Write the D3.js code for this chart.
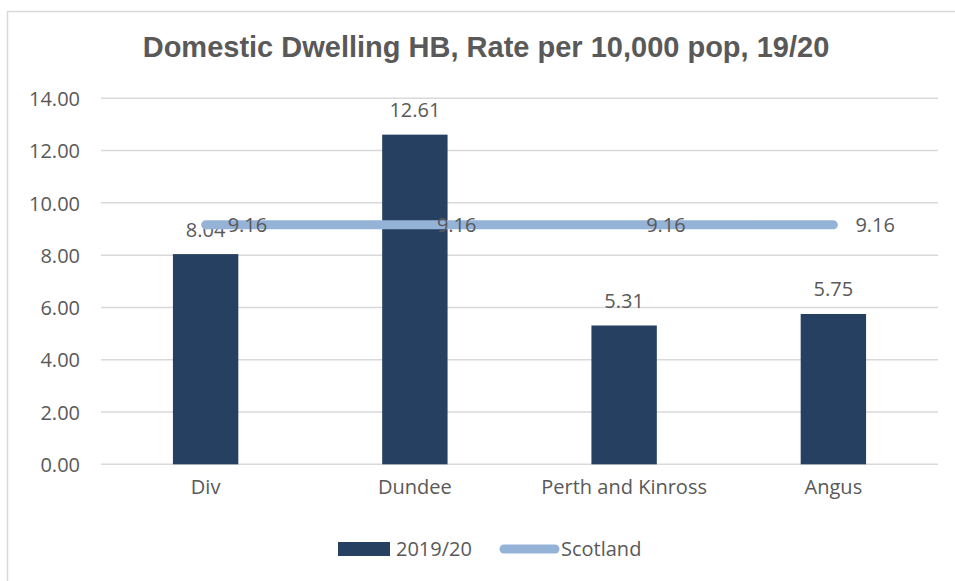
<!DOCTYPE html>
<html><head><meta charset="utf-8">
<script src="https://cdn.jsdelivr.net/npm/d3@7"></script>
<style>body{margin:0;background:#fff}svg{display:block}</style>
</head><body>
<script>
const categories = ["Div", "Dundee", "Perth and Kinross", "Angus"];
const rate2019 = [8.04, 12.61, 5.31, 5.75];
const scotland = [9.16, 9.16, 9.16, 9.16];
const yTicks = [0, 2, 4, 6, 8, 10, 12, 14];
const titleText = "Domestic Dwelling HB, Rate per 10,000 pop, 19/20";
const legendLabels = ["2019/20", "Scotland"];

const W = 955, H = 581;
const textColor = "#595959", barColor = "#264061", lineColor = "#95B3D7", gridColor = "#D9D9D9";
const font = "'Open Sans', sans-serif";

const svg = d3.select("body").append("svg").attr("width", W).attr("height", H);
svg.append("rect").attr("x", 0).attr("y", 0).attr("width", W).attr("height", H).attr("fill", "#fff");
// chart border (top and left visible)
svg.append("path").attr("d", `M7.5,${H} V11.5 H${W}`).attr("fill", "none").attr("stroke", gridColor).attr("stroke-width", 1.5);

const x = d3.scaleBand().domain(categories).range([101, 938]).paddingInner(0.6875).paddingOuter(0.34375);
const y = d3.scaleLinear().domain([0, 14]).range([464.3, 98.3]);

// title
svg.append("text").attr("x", 486).attr("y", 57).attr("text-anchor", "middle")
  .attr("font-family", "'Liberation Sans', Arial, sans-serif").attr("font-weight", "bold")
  .attr("font-size", 29).attr("fill", textColor).text(titleText);

// gridlines
svg.append("g").selectAll("line").data(yTicks).join("line")
  .attr("x1", 101).attr("x2", 938).attr("y1", d => y(d)).attr("y2", d => y(d))
  .attr("stroke", gridColor).attr("stroke-width", 1.5);

// y axis labels
const yAxis = d3.axisLeft(y).tickValues(yTicks).tickFormat(d3.format(".2f")).tickSize(0).tickPadding(0);
const gy = svg.append("g").attr("transform", "translate(80,0)").call(yAxis);
gy.select(".domain").remove();
gy.selectAll("text").attr("font-family", font).attr("font-size", 20).attr("fill", textColor).attr("dy", "0.36em");

// x axis labels
const xAxis = d3.axisBottom(x).tickSize(0).tickPadding(0);
const gx = svg.append("g").attr("transform", "translate(0,480)").call(xAxis);
gx.select(".domain").remove();
gx.selectAll("text").attr("font-family", font).attr("font-size", 20).attr("fill", textColor).attr("dy", "0.71em");

// bars
svg.append("g").selectAll("rect").data(categories).join("rect")
  .attr("x", d => x(d)).attr("width", x.bandwidth())
  .attr("y", (d, i) => y(rate2019[i])).attr("height", (d, i) => y(0) - y(rate2019[i]))
  .attr("fill", barColor);

// bar labels
svg.append("g").selectAll("text").data(categories).join("text")
  .attr("x", d => x(d) + x.bandwidth() / 2).attr("y", (d, i) => y(rate2019[i]) - 17.5)
  .attr("text-anchor", "middle").attr("font-family", font).attr("font-size", 20).attr("fill", textColor)
  .text((d, i) => rate2019[i].toFixed(2));

// Scotland line
const cx = d => x(d) + x.bandwidth() / 2;
const line = d3.line().x((d, i) => cx(categories[i])).y(d => y(d));
svg.append("path").datum(scotland).attr("d", line).attr("fill", "none")
  .attr("stroke", lineColor).attr("stroke-width", 9).attr("stroke-linecap", "round");

// Scotland labels
svg.append("g").selectAll("text").data(scotland).join("text")
  .attr("x", (d, i) => cx(categories[i]) + 22).attr("y", d => y(d)).attr("dy", "0.36em")
  .attr("font-family", font).attr("font-size", 20).attr("fill", textColor)
  .text(d => d.toFixed(2));

// legend
const lg = svg.append("g");
lg.append("rect").attr("x", 338).attr("y", 542).attr("width", 52).attr("height", 14).attr("fill", barColor);
lg.append("text").attr("x", 396).attr("y", 549).attr("dy", "0.36em").attr("font-family", font).attr("font-size", 20).attr("fill", textColor).text(legendLabels[0]);
lg.append("line").attr("x1", 504).attr("x2", 555).attr("y1", 549).attr("y2", 549).attr("stroke", lineColor).attr("stroke-width", 9).attr("stroke-linecap", "round");
lg.append("text").attr("x", 561).attr("y", 549).attr("dy", "0.36em").attr("font-family", font).attr("font-size", 20).attr("fill", textColor).text(legendLabels[1]);
</script>
</body></html>
